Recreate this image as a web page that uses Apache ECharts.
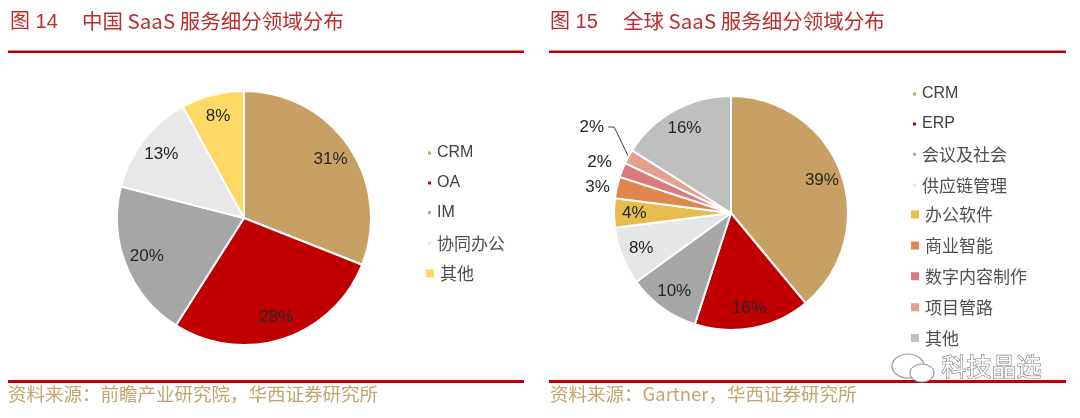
<!DOCTYPE html>
<html><head><meta charset="utf-8">
<script src="https://cdn.jsdelivr.net/npm/echarts@6/dist/echarts.min.js"></script>
<style>
html,body{margin:0;padding:0;background:#fff;}
#wrap{position:relative;width:1080px;height:418px;overflow:hidden;}
#c1{position:absolute;left:0;top:0;width:540px;height:418px;}
#c2{position:absolute;left:540px;top:0;width:540px;height:418px;}
</style>
</head><body><div id="wrap"><div id="c1"></div><div id="c2"></div></div>
<script>
// ---- data ----
const chinaCategories = ['CRM', 'OA', 'IM', '协同办公', '其他'];
const chinaValues = [31, 28, 20, 13, 8];
const globalCategories = ['CRM', 'ERP', '会议及社会', '供应链管理', '办公软件', '商业智能', '数字内容制作', '项目管路', '其他'];
const globalValues = [39, 16, 10, 8, 4, 3, 2, 2, 16];
const chinaTitleNo = '图 14';
const chinaTitle = '中国 SaaS 服务细分领域分布';
const chinaSource = '资料来源：前瞻产业研究院，华西证券研究所';
const globalTitleNo = '图 15';
const globalTitle = '全球 SaaS 服务细分领域分布';
const globalSource = '资料来源：Gartner，华西证券研究所';
const watermark = '科技晶选';

// ---- styles ----
const chinaColors = ['#C9A063', '#C00000', '#A6A6A6', '#E8E8E8', '#FFD966'];
const globalColors = ['#C9A063', '#C00000', '#A6A6A6', '#E7E6E6', '#E6BC4C', '#E0874F', '#DA7A7D', '#E2A18C', '#BFBFBF'];
const FONT = "'Liberation Sans Narrow', 'Liberation Sans', 'Noto Sans CJK SC', sans-serif";
const CJK = "'Noto Sans CJK SC', sans-serif";
const RED = '#C00000';
const TITLE_RED = '#BD2C2C';
const TAN = '#C4A46C';
const LABEL = '#262626';

function buildOption(cfg) {
  const outside = cfg.outside || {};
  const dataA = cfg.names.map((name, i) => {
    const o = outside[name];
    return {
      name: name, value: cfg.values[i],
      itemStyle: { color: cfg.colors[i] },
      label: { show: !!o },
      labelLine: o ? { show: !!o.line, length: o.length, length2: o.length2 } : { show: false }
    };
  });
  const dataB = cfg.names.map((name, i) => ({
    name: name, value: cfg.values[i],
    label: { show: !outside[name] }
  }));
  const legendText = {
    color: '#404040', fontFamily: FONT, lineHeight: 16,
    rich: {
      en: { fontSize: 16, fontFamily: FONT, color: '#404040', lineHeight: 16 },
      zh: { fontSize: 17, fontFamily: CJK, color: '#505050', lineHeight: 16 }
    }
  };
  const fmt = name => /^[A-Za-z ]+$/.test(name) ? '{en|' + name + '}' : '{zh|' + name + '}';
  const shifts = cfg.labelShift || {};
  return {
    animation: false,
    backgroundColor: '#fff',
    legend: [
      { orient: 'vertical', left: cfg.legSmall[0], top: cfg.legSmall[1], padding: 0,
        itemWidth: 5, itemHeight: 5, itemGap: 13.9, icon: 'rect', selectedMode: false,
        data: cfg.names.slice(0, cfg.smallCount), textStyle: legendText, formatter: fmt },
      { orient: 'vertical', left: cfg.legBig[0], top: cfg.legBig[1], padding: 0,
        itemWidth: 10, itemHeight: 10, itemGap: 13.9, icon: 'rect', selectedMode: false,
        data: cfg.names.slice(cfg.smallCount), textStyle: legendText, formatter: fmt }
    ],
    graphic: [
      { type: 'text', left: 10, top: 12, style: { text: cfg.titleNo, fill: TITLE_RED, fontSize: 20, fontFamily: FONT } },
      { type: 'text', left: cfg.titleX, top: 11, style: { text: cfg.title, fill: TITLE_RED, fontSize: 20.5, fontFamily: CJK } },
      { type: 'rect', shape: { x: cfg.line[0], y: 50.5, width: cfg.line[1] - cfg.line[0], height: 2.5 }, style: { fill: RED } },
      { type: 'rect', shape: { x: cfg.line[0], y: 380, width: cfg.line[1] - cfg.line[0], height: 3 }, style: { fill: RED } },
      { type: 'text', left: cfg.srcX, top: 385, style: { text: cfg.source, fill: TAN, fontSize: 18.5, fontFamily: CJK } }
    ].concat(cfg.extra || []),
    series: [
      {
        type: 'pie', center: cfg.center, radius: [0, cfg.r], startAngle: 90, clockwise: true,
        avoidLabelOverlap: false, silent: true, z: 2,
        itemStyle: { borderColor: '#fff', borderWidth: 2 },
        label: { position: 'outside', formatter: '{c}%', color: LABEL, fontSize: 17, fontFamily: FONT },
        labelLine: { lineStyle: { color: '#404040', width: 1 } },
        labelLayout: function (p) {
          const s = shifts[p.dataIndex];
          if (!s) return {};
          const out = { dx: s[0], dy: s[1] };
          const pts = p.labelLinePoints;
          const r = p.labelRect;
          if (pts && r) {
            const right = r.x + r.width + s[0];
            const cy = r.y + r.height / 2 + s[1];
            out.labelLinePoints = [pts[0], [right + 10, cy], [right + 4, cy]];
          }
          return out;
        },
        data: dataA
      },
      {
        type: 'pie', center: cfg.center, radius: [0, cfg.r * 1.6], startAngle: 90, clockwise: true,
        avoidLabelOverlap: false, silent: true, z: 10,
        itemStyle: { color: 'rgba(255,255,255,0)', borderWidth: 0 },
        label: { position: 'inside', formatter: '{c}%', color: LABEL, fontSize: 17, fontFamily: FONT },
        labelLine: { show: false },
        data: dataB
      }
    ]
  };
}

const c1 = echarts.init(document.getElementById('c1'), null, { renderer: 'canvas' });
c1.setOption(buildOption({
  names: chinaCategories, values: chinaValues, colors: chinaColors,
  center: [244, 218], r: 127,
  smallCount: 4, legSmall: [426, 145], legBig: [424, 265],
  titleNo: chinaTitleNo, title: chinaTitle, titleX: 82, line: [8, 524], srcX: 8, source: chinaSource
}));

const c2 = echarts.init(document.getElementById('c2'), null, { renderer: 'canvas' });
c2.setOption(buildOption({
  names: globalCategories, values: globalValues, colors: globalColors,
  center: [191, 213], r: 117,
  smallCount: 4, legSmall: [371, 86], legBig: [369, 206],
  outside: {
    '商业智能': { line: false, length: 2, length2: 0 },
    '数字内容制作': { line: false, length: 8, length2: 0 },
    '项目管路': { line: true, length: 22, length2: 8 }
  },
  labelShift: { 6: [2, -5], 7: [8, -19] },
  titleNo: globalTitleNo, title: globalTitle, titleX: 83, line: [9, 526], srcX: 10, source: globalSource,
  extra: [
    { type: 'ellipse', z: 50, shape: { cx: 368, cy: 366, rx: 16, ry: 12 }, style: { fill: '#fff', stroke: '#9a9a9a', lineWidth: 1.2 } },
    { type: 'ellipse', z: 51, shape: { cx: 382, cy: 373, rx: 12, ry: 9 }, style: { fill: '#fff', stroke: '#9a9a9a', lineWidth: 1.2 } },
    { type: 'text', z: 52, left: 401, top: 353, style: { text: watermark, fill: '#fff', stroke: '#777', lineWidth: 1.2, fontSize: 25, fontFamily: CJK } }
  ]
}));
</script>
</body></html>
